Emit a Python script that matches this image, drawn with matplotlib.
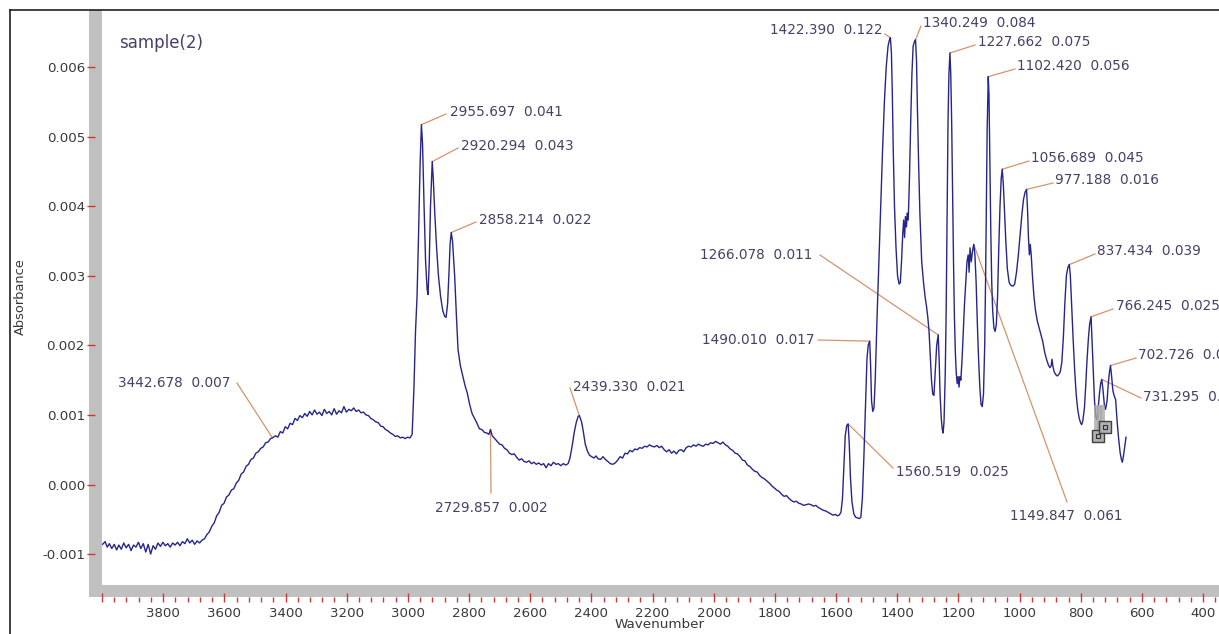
import numpy as np
import matplotlib
matplotlib.use('Agg')
import matplotlib.pyplot as plt
from matplotlib.patches import Rectangle
from matplotlib.lines import Line2D
from matplotlib.ticker import FixedLocator, MultipleLocator, FixedFormatter

W, H = 1219, 634
plt.rcParams['axes.unicode_minus'] = False
plt.rcParams['font.family'] = 'DejaVu Sans'

# spectrum, absorbance in units of 1e-3
wavenumber = [
    3998, 3990, 3983, 3976, 3968, 3960, 3952, 3945, 3937, 3929, 3921, 3913, 3905, 3897, 3889,
    3881, 3873, 3865, 3857, 3849, 3841, 3833, 3825, 3817, 3809, 3801, 3793, 3785, 3777, 3769,
    3761, 3753, 3745, 3737, 3729, 3721, 3713, 3705, 3697, 3689, 3681, 3673, 3665,
    3657, 3649, 3641, 3633, 3625, 3617, 3609, 3601, 3593, 3585, 3577, 3569, 3561, 3553, 3545,
    3537, 3529, 3521, 3513, 3505, 3497, 3489, 3481, 3473, 3465, 3457, 3449, 3442.678, 3433,
    3425, 3417, 3409, 3401, 3393, 3385, 3377, 3369, 3361, 3353, 3345,
    3337, 3329, 3321, 3313, 3305, 3297, 3289, 3281, 3273, 3265, 3257, 3249, 3241, 3233, 3225,
    3217, 3209, 3201, 3193, 3185, 3177, 3169, 3161, 3153, 3145, 3137, 3129, 3121, 3113, 3105,
    3097, 3089, 3081, 3073, 3065, 3057, 3049, 3041, 3033, 3025, 3017, 3009, 3001, 2993, 2986,
    2980, 2975, 2970, 2965, 2960, 2955.697, 2952, 2947, 2942, 2937, 2934, 2930, 2926, 2920.294,
    2917, 2912, 2906, 2900, 2893, 2886, 2880, 2875, 2870, 2865, 2862, 2858.214, 2854, 2847,
    2841, 2836, 2828, 2820, 2813, 2806, 2798, 2790, 2782, 2774, 2766, 2758, 2750, 2742, 2735,
    2729.857, 2724, 2716, 2708, 2700, 2692, 2684, 2676, 2668, 2660, 2652, 2644, 2636, 2628,
    2620, 2612, 2604, 2596, 2588, 2580, 2572, 2564, 2556, 2548, 2540, 2532, 2524, 2516, 2508,
    2500, 2492, 2484, 2476, 2470, 2463, 2456, 2449, 2443, 2439.33, 2432, 2426, 2420, 2413,
    2406, 2399, 2392, 2385, 2378, 2370, 2362, 2354, 2346, 2338, 2330, 2322, 2314, 2306, 2298,
    2290, 2282, 2274, 2266, 2258, 2250, 2242, 2234, 2226, 2218, 2210, 2202, 2194, 2186, 2178,
    2170, 2162, 2154, 2146, 2138, 2130, 2122, 2114, 2106, 2098, 2090, 2082, 2074, 2066, 2058,
    2050, 2042, 2034, 2026, 2018, 2010, 2002, 1994, 1986, 1978, 1970, 1962, 1954, 1946, 1938,
    1930, 1922, 1914, 1906, 1898, 1890, 1882, 1874, 1866, 1858, 1850, 1842, 1834, 1826, 1818,
    1810, 1802, 1794, 1786, 1778, 1770, 1762, 1754, 1746, 1738, 1730, 1722, 1714, 1706, 1698,
    1690, 1682, 1674, 1666, 1658, 1650, 1642, 1634, 1626, 1618, 1610, 1602, 1596,
    1590, 1584, 1579, 1574, 1570, 1565, 1560.519, 1557, 1553, 1548, 1542, 1536, 1530, 1524,
    1519, 1514, 1509, 1504, 1499, 1495, 1490.01, 1487, 1484, 1480, 1476, 1472, 1466, 1460,
    1454, 1448, 1442, 1436, 1430, 1426, 1422.39, 1419, 1416, 1413, 1409, 1404, 1399, 1394,
    1390, 1386, 1382, 1379, 1376, 1373, 1370, 1367, 1364, 1360, 1356, 1352, 1348, 1344,
    1340.249, 1337, 1334, 1330, 1326, 1320, 1314, 1309, 1304, 1300, 1296, 1292, 1288, 1284,
    1280, 1276, 1271, 1266.078, 1263, 1260, 1256, 1253, 1250, 1247, 1243, 1240, 1237, 1234,
    1231, 1227.662, 1225, 1222, 1219, 1216, 1213, 1210, 1207, 1204, 1201, 1198, 1195, 1192,
    1188, 1184, 1180, 1176, 1172, 1168, 1165, 1162, 1158, 1154, 1149.847, 1146, 1142, 1138,
    1134, 1130, 1126, 1122, 1118, 1114, 1111, 1108, 1106, 1102.42, 1100, 1097, 1094, 1091,
    1088, 1084, 1080, 1076, 1072, 1068, 1064, 1060, 1056.689, 1053, 1049, 1045, 1040, 1034,
    1028, 1022, 1016, 1010, 1004, 998, 992, 987, 982, 977.188, 974, 971, 968, 965, 962, 958,
    953, 948, 942, 936, 930, 924, 918, 912, 906, 901, 897, 894, 891, 887, 882, 877, 872, 867,
    862, 857, 852, 847, 842, 837.434, 834, 830, 825, 820, 815, 810, 805, 800, 797, 793, 788,
    784, 780, 775, 771, 766.245, 763, 759, 755, 751, 747, 743, 739, 735, 731.295, 727, 723,
    719, 714, 710, 706, 702.726, 699, 695, 691, 686, 681, 676, 671, 667, 664, 660, 656, 652,
]
absorb_milli = [
    -0.86, -0.82, -0.90, -0.85, -0.92, -0.86, -0.94, -0.87, -0.93, -0.84, -0.91, -0.86, -0.95, -0.87, -0.90,
    -0.83, -0.92, -0.85, -0.97, -0.86, -1.00, -0.88, -0.93, -0.84, -0.89, -0.83, -0.88, -0.85, -0.90, -0.84,
    -0.87, -0.83, -0.88, -0.82, -0.85, -0.78, -0.84, -0.80, -0.86, -0.81, -0.84, -0.80, -0.78,
    -0.72, -0.68, -0.60, -0.55, -0.45, -0.40, -0.30, -0.27, -0.18, -0.15, -0.08, -0.06, 0.02, 0.06, 0.15,
    0.18, 0.26, 0.29, 0.36, 0.38, 0.45, 0.47, 0.52, 0.54, 0.60, 0.61, 0.66, 0.67, 0.70,
    0.68, 0.76, 0.74, 0.83, 0.80, 0.88, 0.86, 0.95, 0.92, 0.99, 0.96,
    1.02, 0.98, 1.05, 1.00, 1.07, 1.01, 1.04, 0.99, 1.08, 1.02, 1.05, 1.00, 1.09, 1.01, 1.06,
    1.03, 1.12, 1.04, 1.08, 1.06, 1.10, 1.05, 1.07, 1.03, 1.04, 1.00, 0.99, 0.95, 0.93, 0.90,
    0.89, 0.84, 0.83, 0.79, 0.77, 0.74, 0.72, 0.69, 0.70, 0.67, 0.68, 0.66, 0.68, 0.67, 0.72,
    1.40, 2.20, 2.70, 3.60, 4.60, 5.17, 4.90, 4.00, 3.20, 2.80, 2.73, 3.20, 4.00, 4.64,
    4.40, 3.90, 3.40, 3.00, 2.70, 2.50, 2.42, 2.40, 2.60, 3.10, 3.45, 3.62, 3.50, 3.00,
    2.40, 1.94, 1.70, 1.55, 1.42, 1.32, 1.15, 1.02, 0.95, 0.88, 0.80, 0.79, 0.75, 0.74, 0.72,
    0.79, 0.70, 0.66, 0.62, 0.58, 0.57, 0.52, 0.50, 0.45, 0.43, 0.44, 0.39, 0.35, 0.37,
    0.33, 0.32, 0.34, 0.30, 0.32, 0.29, 0.31, 0.28, 0.30, 0.24, 0.30, 0.27, 0.32, 0.29, 0.30,
    0.27, 0.30, 0.28, 0.30, 0.38, 0.55, 0.75, 0.90, 0.98, 0.99, 0.90, 0.75, 0.58, 0.48,
    0.42, 0.40, 0.38, 0.41, 0.37, 0.36, 0.40, 0.36, 0.33, 0.30, 0.29, 0.31, 0.35, 0.40, 0.38,
    0.45, 0.44, 0.49, 0.47, 0.51, 0.50, 0.53, 0.52, 0.55, 0.54, 0.57, 0.55, 0.54, 0.56, 0.53,
    0.55, 0.50, 0.47, 0.50, 0.45, 0.48, 0.44, 0.49, 0.50, 0.47, 0.53, 0.55, 0.54, 0.57, 0.55,
    0.58, 0.56, 0.55, 0.58, 0.57, 0.60, 0.59, 0.62, 0.60, 0.58, 0.61, 0.57, 0.55, 0.51, 0.49,
    0.45, 0.44, 0.40, 0.35, 0.34, 0.28, 0.26, 0.22, 0.19, 0.18, 0.13, 0.10, 0.08, 0.05, 0.02,
    -0.02, -0.05, -0.08, -0.10, -0.14, -0.17, -0.16, -0.20, -0.23, -0.25, -0.24, -0.27, -0.28, -0.30, -0.29,
    -0.28, -0.29, -0.31, -0.30, -0.33, -0.35, -0.37, -0.38, -0.40, -0.42, -0.44, -0.43, -0.45,
    -0.44, -0.40, -0.20, 0.30, 0.70, 0.85, 0.87, 0.60, 0.10, -0.25, -0.42, -0.47, -0.48, -0.49,
    -0.47, -0.20, 0.40, 1.10, 1.80, 2.00, 2.06, 1.70, 1.20, 1.05, 1.10, 1.50, 2.40, 3.20,
    4.00, 4.80, 5.50, 6.00, 6.30, 6.38, 6.42, 6.20, 5.60, 4.80, 4.00, 3.40, 3.00, 2.88,
    2.90, 3.20, 3.60, 3.80, 3.55, 3.85, 3.70, 3.90, 3.80, 4.40, 5.20, 5.90, 6.30, 6.36,
    6.39, 6.10, 5.40, 4.60, 3.90, 3.20, 2.90, 2.70, 2.55, 2.40, 2.20, 1.85, 1.50, 1.30,
    1.28, 1.60, 2.00, 2.15, 1.80, 1.30, 0.95, 0.80, 0.74, 0.90, 1.60, 2.50, 3.80, 5.20,
    5.90, 6.20, 5.90, 5.20, 4.20, 3.20, 2.40, 1.90, 1.60, 1.45, 1.55, 1.40, 1.55, 1.50,
    1.80, 2.20, 2.60, 2.90, 3.20, 3.30, 3.05, 3.40, 3.20, 3.35, 3.45, 3.30, 2.90, 2.30,
    1.80, 1.40, 1.15, 1.12, 1.30, 2.00, 3.00, 4.20, 5.10, 5.86, 5.60, 4.60, 3.60, 2.90,
    2.50, 2.25, 2.20, 2.30, 2.70, 3.40, 4.00, 4.40, 4.53, 4.30, 3.90, 3.50, 3.10, 2.90,
    2.86, 2.85, 2.88, 3.05, 3.30, 3.60, 3.90, 4.10, 4.20, 4.24, 3.95, 3.55, 3.30, 3.45, 3.30, 3.00,
    2.70, 2.50, 2.35, 2.25, 2.15, 2.05, 1.90, 1.80, 1.72, 1.68, 1.70, 1.80, 1.70, 1.62, 1.58, 1.56, 1.58, 1.62,
    1.75, 2.10, 2.60, 3.00, 3.12, 3.16, 3.00, 2.60, 2.10, 1.65, 1.30, 1.08, 0.95, 0.88, 0.86, 0.92, 1.10,
    1.40, 1.75, 2.10, 2.30, 2.41, 2.05, 1.60, 1.20, 0.98, 0.93, 1.10, 1.30, 1.45, 1.51, 1.35, 1.15,
    1.08, 1.20, 1.45, 1.62, 1.71, 1.55, 1.35, 1.28, 1.22, 0.90, 0.65, 0.45, 0.36, 0.32, 0.42, 0.55, 0.68,
]

# peak picks: wavenumber and the value printed beside it
peak_wn = [3442.678, 2955.697, 2920.294, 2858.214, 2729.857, 2439.330, 1560.519, 1490.010,
           1422.390, 1340.249, 1266.078, 1227.662, 1149.847, 1102.420, 1056.689, 977.188,
           837.434, 766.245, 731.295, 702.726]
peak_val = ['0.007', '0.041', '0.043', '0.022', '0.002', '0.021', '0.025', '0.017',
            '0.122', '0.084', '0.011', '0.075', '0.061', '0.056', '0.045', '0.016',
            '0.039', '0.025', '0.008', '0.012']

# label placement in pixels: text left/middle, then start of the leader line
label_xy = [(118, 383), (450, 112), (461, 146), (479, 220), (435, 508), (573, 387),
            (896, 472), (702, 340), (770, 30), (923, 23), (700, 255), (978, 42),
            (1010, 516), (1017, 66), (1031, 158), (1055, 180), (1097, 251), (1116, 306),
            (1143, 397), (1138, 355)]
leader_xy = [(237, 383), (446, 114), (458, 148), (476, 222), (491, 493), (570, 388),
             (893, 468), (818, 340), (885, 34), (921, 26), (820, 255), (975, 45),
             (1067, 502), (1015, 69), (1029, 161), (1053, 183), (1095, 254), (1113, 309),
             (1141, 398), (1136, 358)]

# cursor boxes left on the trace
cursor_wn = [744, 721]
cursor_milli = [0.69, 0.83]

y_ticks = [-0.001, 0.000, 0.001, 0.002, 0.003, 0.004, 0.005, 0.006]
x_ticks = [3800, 3600, 3400, 3200, 3000, 2800, 2600, 2400, 2200, 2000,
           1800, 1600, 1400, 1200, 1000, 800, 600, 400]

wn = np.array(wavenumber)
ab = np.array(absorb_milli) * 1e-3

fig = plt.figure(figsize=(W / 100, H / 100), dpi=100)
fig.patch.set_facecolor('white')


def fx(px):
    return px / W


def fy(py):
    return 1 - py / H


# plot area in pixels: x 102..1219, y 10..585
ax = fig.add_axes([fx(102), fy(585), fx(1219) - fx(102), fy(10) - fy(585)])
ax.set_xlim(4000, 348)
ax.set_ylim(-0.001444, 0.006818)

for s in ax.spines.values():
    s.set_visible(False)
ax.spines['left'].set_position(('outward', 5))
ax.spines['bottom'].set_position(('outward', 12))

tick_red = '#d03838'
txt_gray = '#3a3a3a'
ax.yaxis.set_major_locator(FixedLocator(y_ticks))
ax.yaxis.set_major_formatter(FixedFormatter(['%.3f' % v for v in y_ticks]))
ax.tick_params(axis='y', direction='out', length=5.8, width=1.0, color=tick_red,
               pad=1.5, labelsize=9.6, labelcolor=txt_gray)

ax.xaxis.set_major_locator(FixedLocator([4000] + x_ticks))
ax.xaxis.set_major_formatter(FixedFormatter([''] + [str(v) for v in x_ticks]))
ax.xaxis.set_minor_locator(MultipleLocator(40))
ax.tick_params(axis='x', which='major', direction='in', length=6.5, width=1.0,
               color=tick_red, pad=4.0, labelsize=9.6, labelcolor=txt_gray)
ax.tick_params(axis='x', which='minor', direction='in', length=3.6, width=1.0,
               color=tick_red)

# gray frame bars on the left and bottom
fig.add_artist(Rectangle((fx(89), fy(597)), fx(102) - fx(89), fy(10) - fy(597),
                         transform=fig.transFigure, color='#c0c0c0', zorder=-1, lw=0))
fig.add_artist(Rectangle((fx(89), fy(597)), fx(1219) - fx(89), fy(585) - fy(597),
                         transform=fig.transFigure, color='#c0c0c0', zorder=-1, lw=0))
# outer window border
fig.add_artist(Line2D([fx(10), fx(10)], [fy(634), fy(10)], transform=fig.transFigure,
                      color='#202020', lw=1.2))
fig.add_artist(Line2D([fx(10), fx(1219)], [fy(10), fy(10)], transform=fig.transFigure,
                      color='#202020', lw=1.2))

ax.plot(wn, ab, color='#26268a', lw=1.0, zorder=3)

# peak labels with leader lines
lbl_color = '#4a3f66'
lead_color = '#d4946e'
to_data = ax.transData.inverted()
order = np.argsort(wn)
for w, v, (tx, ty), (lx, ly) in zip(peak_wn, peak_val, label_xy, leader_xy):
    ya = np.interp(w, wn[order], ab[order])
    t = to_data.transform((tx, H - ty))
    l = to_data.transform((lx, H - ly))
    ax.plot([l[0], w], [l[1], ya], color=lead_color, lw=0.9, zorder=2, clip_on=False)
    ax.text(t[0], t[1], '%.3f  %s' % (w, v), color=lbl_color, fontsize=9.8,
            ha='left', va='center', clip_on=False)

# cursor markers
for w in [749, 739, 730]:
    ax.plot([w, w], [0.00082, 0.00112], color='#a8a8a8', lw=3.5, alpha=0.8, zorder=4)
cm = np.array(cursor_milli) * 1e-3
ax.plot(cursor_wn, cm, ls='none', marker='s', ms=9, mfc='#b0b0b0', mec='#404040',
        mew=1.0, zorder=5)
ax.plot(cursor_wn, cm, ls='none', marker='s', ms=3.5, mfc='none', mec='#303030',
        mew=0.8, zorder=6)

fig.text(fx(119), fy(43), 'sample(2)', fontsize=12, color=lbl_color, ha='left', va='center')
fig.text(fx(20), fy(297), 'Absorbance', fontsize=9.4, color=txt_gray, rotation=90,
         ha='center', va='center')
fig.text(fx(660), fy(625), 'Wavenumber', fontsize=9.7, color=txt_gray, ha='center',
         va='center')

fig.savefig('out.png', dpi=100)
